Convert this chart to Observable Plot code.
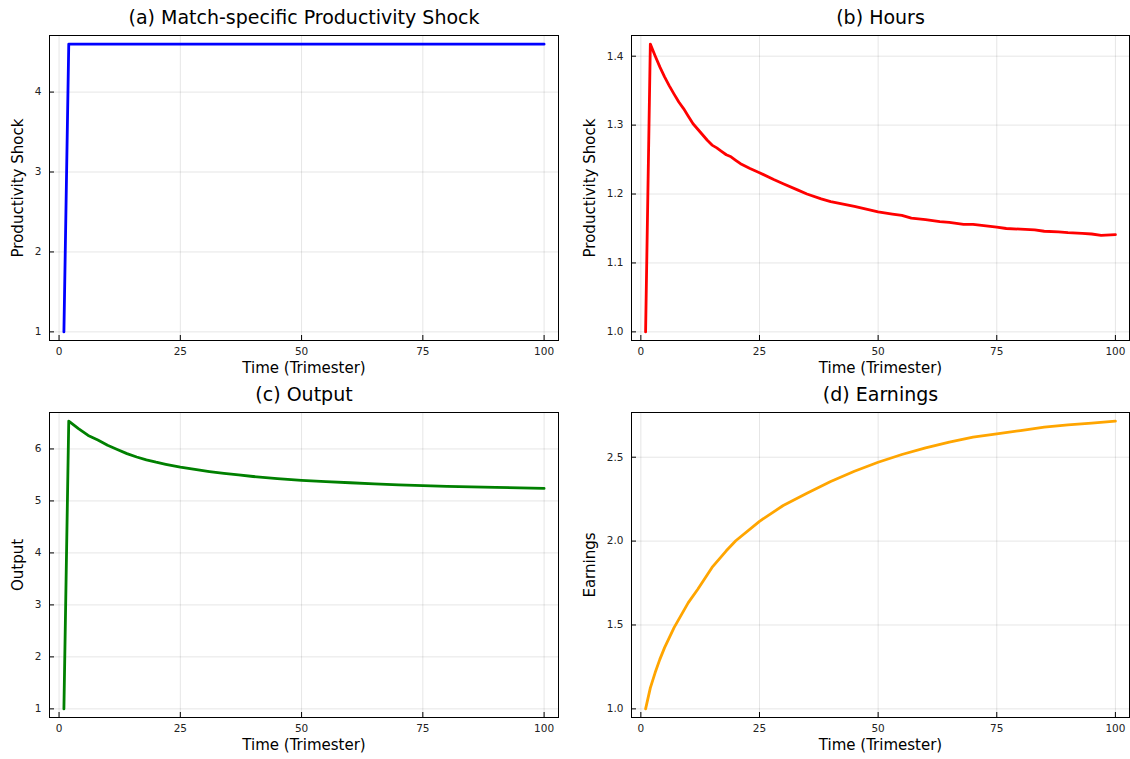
<!DOCTYPE html>
<html>
<head>
<meta charset="utf-8">
<script src="https://cdn.jsdelivr.net/npm/d3@7"></script>
<script src="https://cdn.jsdelivr.net/npm/@observablehq/plot@0.6"></script>
<style>
  html, body { margin: 0; padding: 0; background: #fff; }
  #root { position: relative; width: 1130px; height: 759px; font-family: "DejaVu Sans", sans-serif; }
  .panel { position: absolute; }
</style>
</head>
<body>
<div id="root"></div>
<script>
// ---- Data ----
const xTicks = [0, 25, 50, 75, 100];

const shockT = [1, 2, 100];
const shockV = [1.0, 4.6, 4.6];

const hoursT = [1, 2, 3, 4, 5, 6, 7, 8, 9, 10, 11, 12, 13, 14, 15, 16, 17, 18, 19, 20, 21, 23, 25, 28, 30, 33, 35, 38, 40, 45, 50, 53, 55, 57, 60, 63, 65, 68, 70, 75, 77, 80, 83, 85, 88, 90, 93, 95, 97, 100];
const hoursV = [1.0, 1.4175, 1.4005, 1.3845, 1.370, 1.357, 1.345, 1.3335, 1.324, 1.313, 1.302, 1.294, 1.286, 1.278, 1.271, 1.267, 1.262, 1.257, 1.254, 1.249, 1.244, 1.237, 1.231, 1.221, 1.215, 1.206, 1.200, 1.193, 1.189, 1.182, 1.174, 1.171, 1.169, 1.165, 1.163, 1.160, 1.159, 1.156, 1.156, 1.152, 1.150, 1.149, 1.148, 1.146, 1.145, 1.144, 1.143, 1.142, 1.140, 1.141];

const outputT = [1, 2, 4, 6, 8, 10, 12, 14, 16, 18, 20, 22, 25, 28, 31, 34, 37, 40, 45, 50, 55, 60, 65, 70, 75, 80, 85, 90, 95, 100];
const outputV = [1.0, 6.535, 6.39, 6.26, 6.17, 6.07, 5.99, 5.91, 5.845, 5.79, 5.745, 5.705, 5.65, 5.605, 5.565, 5.53, 5.50, 5.47, 5.43, 5.395, 5.37, 5.35, 5.33, 5.31, 5.295, 5.28, 5.27, 5.26, 5.25, 5.24];

const earnT = [1, 2, 3, 4, 5, 7, 10, 12, 15, 18, 20, 25, 30, 35, 40, 45, 50, 55, 60, 65, 70, 75, 80, 85, 90, 95, 100];
const earnV = [1.0, 1.125, 1.215, 1.295, 1.365, 1.484, 1.633, 1.713, 1.843, 1.942, 2.002, 2.118, 2.212, 2.285, 2.355, 2.416, 2.470, 2.516, 2.556, 2.590, 2.620, 2.639, 2.659, 2.679, 2.693, 2.703, 2.715];

const panels = [
  {title: "(a) Match-specific Productivity Shock", ylabel: "Productivity Shock", T: shockT, V: shockV, color: "#0000ff",
   yTicks: [1, 2, 3, 4], fmt: d3.format("d"), left: 0, top: 0, width: 565, frameW: 509, labelDx: -31},
  {title: "(b) Hours", ylabel: "Productivity Shock", T: hoursT, V: hoursV, color: "#ff0000",
   yTicks: [1.0, 1.1, 1.2, 1.3, 1.4], fmt: d3.format(".1f"), left: 582, top: 0, width: 548, frameW: 498, labelDx: -41},
  {title: "(c) Output", ylabel: "Output", T: outputT, V: outputV, color: "#008000",
   yTicks: [1, 2, 3, 4, 5, 6], fmt: d3.format("d"), left: 0, top: 377, width: 565, frameW: 509, labelDx: -31},
  {title: "(d) Earnings", ylabel: "Earnings", T: earnT, V: earnV, color: "#ffa500",
   yTicks: [1.0, 1.5, 2.0, 2.5], fmt: d3.format(".1f"), left: 582, top: 377, width: 548, frameW: 498, labelDx: -41}
];

const root = document.getElementById("root");

function pad(lo, hi) { const p = (hi - lo) * 0.03; return [lo - p, hi + p]; }

for (const p of panels) {
  const data = p.T.map((t, i) => ({t, v: p.V[i]}));
  const xDom = pad(d3.min(p.T), d3.max(p.T));
  const yDom = pad(d3.min(p.V), d3.max(p.V));
  const frameH = 378 - 35 - 38;
  const tickY = (yDom[1] - yDom[0]) * 5 / frameH;
  const tickX = (xDom[1] - xDom[0]) * 5 / p.frameW;
  const chart = Plot.plot({
    width: p.width,
    height: 378,
    marginLeft: 49,
    marginRight: p.width - 49 - p.frameW,
    marginTop: 35,
    marginBottom: 38,
    style: {fontFamily: "DejaVu Sans", fontSize: "10.5px", background: "transparent", color: "#222", overflow: "visible"},
    x: {domain: xDom},
    y: {domain: yDom},
    marks: [
      Plot.gridX(xTicks, {stroke: "#000", strokeOpacity: 0.1, strokeWidth: 1}),
      Plot.gridY(p.yTicks, {stroke: "#000", strokeOpacity: 0.1, strokeWidth: 1}),
      Plot.axisX(xTicks, {tickSize: 0, tickPadding: 7, label: null, fontSize: 10.5}),
      Plot.axisY(p.yTicks, {tickSize: 0, tickPadding: 8, tickFormat: p.fmt, label: null, fontSize: 10.5}),
      Plot.ruleX(xTicks, {x: d => d, y1: yDom[0], y2: yDom[0] + tickY, stroke: "#000", strokeWidth: 1}),
      Plot.ruleY(p.yTicks, {y: d => d, x1: xDom[0], x2: xDom[0] + tickX, stroke: "#000", strokeWidth: 1}),
      Plot.frame({stroke: "#000", strokeWidth: 1}),
      Plot.line(data, {x: "t", y: "v", stroke: p.color, strokeWidth: 2.8, strokeLinejoin: "round"}),
      Plot.text([p.title], {frameAnchor: "top", lineAnchor: "middle", dy: -18, fontSize: 19, fill: "#000"}),
      Plot.text(["Time (Trimester)"], {frameAnchor: "bottom", lineAnchor: "middle", dy: 28, fontSize: 15, fill: "#000"}),
      Plot.text([p.ylabel], {frameAnchor: "left", textAnchor: "middle", lineAnchor: "middle", dx: p.labelDx, rotate: -90, fontSize: 15, fill: "#000"})
    ]
  });
  const div = document.createElement("div");
  div.className = "panel";
  div.style.left = p.left + "px";
  div.style.top = p.top + "px";
  div.appendChild(chart);
  root.appendChild(div);
}
</script>
</body>
</html>
